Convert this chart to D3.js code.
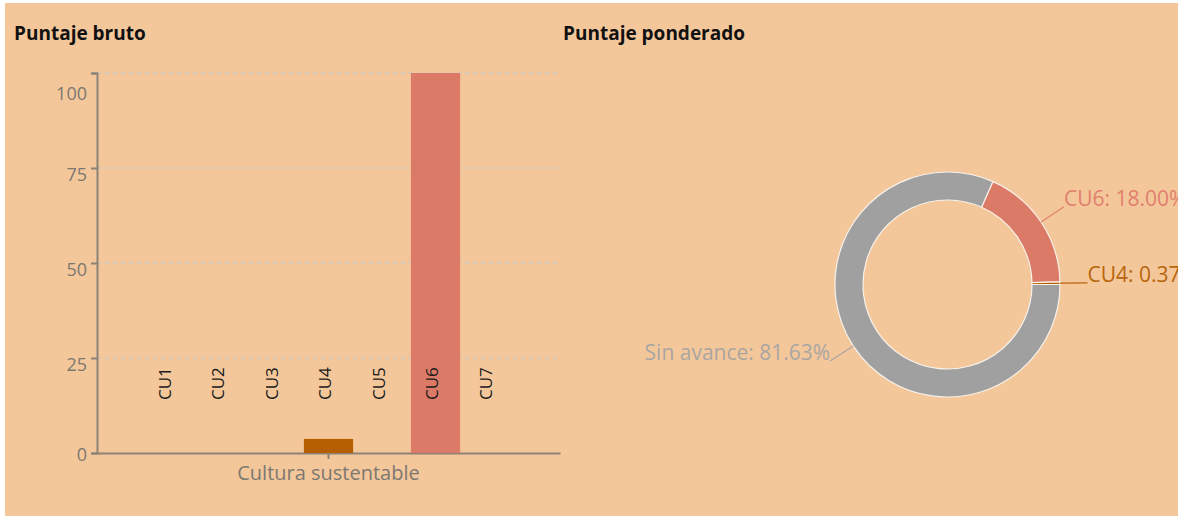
<!DOCTYPE html>
<html>
<head>
<meta charset="utf-8">
<script src="https://cdn.jsdelivr.net/npm/d3@7"></script>
<style>
  html, body { margin: 0; padding: 0; background: #fff; }
  body { font-family: "Open Sans", "Noto Sans", sans-serif; }
  #wrap {
    position: absolute; left: 5px; top: 3px; width: 1173px; height: 513px;
    background: #f4c79b; overflow: hidden;
  }
  svg { position: absolute; left: 0; top: 0; }
  .title { font-weight: 700; font-size: 19px; fill: #111; }
  .axis path, .axis line { stroke: #8b8278; stroke-width: 2px; fill: none; }
  .axis text { fill: #7d7870; font-family: "Open Sans", sans-serif; }
  .grid line { stroke: #cdc8c1; stroke-dasharray: 4 4; stroke-width: 1.5px; }
  .cu-label { font-size: 17px; fill: #1a1a1a; }
  .pie-label { font-size: 21px; }
</style>
</head>
<body>
<div id="wrap"></div>
<script>
// Data
var groups = ["Cultura sustentable"];
var categories = ["CU1", "CU2", "CU3", "CU4", "CU5", "CU6", "CU7"];
var rawScores = [0, 0, 0, 3.7, 0, 100, 0];
var yTicks = [0, 25, 50, 75, 100];

var pieNames = ["Sin avance", "CU6", "CU4"];
var pieValues = [81.63, 18.0, 0.37];

var COLORS = {
  CU4: "#b55f00",
  CU6: "#dc7a68",
  "Sin avance": "#a0a0a0",
};
var LABEL_COLORS = {
  CU4: "#b8650c",
  CU6: "#e0806e",
  "Sin avance": "#a9a6a2",
};

var container = d3.select("#wrap");
var svg = container.append("svg").attr("width", 1173).attr("height", 513);

// Coordinates inside #wrap (offset 5,3 from page)
var margins = { top: 70, left: 92, bottom: 63 };
var chartWidth = 463;
var chartHeight = 380;

svg.append("text").attr("class", "title").attr("x", 9).attr("y", 37).text("Puntaje bruto");
svg.append("text").attr("class", "title").attr("x", 558).attr("y", 37).text("Puntaje ponderado");

// ---- Bar chart ----
var chartElement = svg.append("g").attr("transform", `translate(${margins.left},${margins.top})`);

var x0 = d3.scaleBand().domain(groups).range([0, chartWidth]).paddingInner(0.1).paddingOuter(0.1);
var x1 = d3.scaleBand().domain(categories).range([0, x0.bandwidth()]).padding(0.08);
var yScale = d3.scaleLinear().domain([0, 100]).range([chartHeight, 0]);

// Grid
chartElement
  .append("g")
  .attr("class", "grid")
  .selectAll("line")
  .data(yTicks.filter((d) => d > 0))
  .enter()
  .append("line")
  .attr("x1", 0)
  .attr("x2", chartWidth)
  .attr("y1", (d) => yScale(d))
  .attr("y2", (d) => yScale(d));

// Axes
var yAxis = d3.axisLeft(yScale).tickValues(yTicks).tickSize(6).tickPadding(4);
var yAxisG = chartElement.append("g").attr("class", "y axis").call(yAxis);
yAxisG
  .selectAll("text")
  .style("font-size", "18px")
  .attr("dy", (d) => (d == 100 ? "1.45em" : d == 0 ? "0.4em" : "0.7em"));

var xAxis = d3.axisBottom(x0).tickSize(6).tickSizeOuter(0).tickPadding(5);
var xAxisG = chartElement.append("g").attr("class", "x axis").attr("transform", `translate(0,${chartHeight})`).call(xAxis);
xAxisG.selectAll("text").style("font-size", "20px").attr("dy", "0.8em");

// Bars
var barGroups = chartElement
  .selectAll(".bars")
  .data(groups)
  .enter()
  .append("g")
  .attr("class", "bars")
  .attr("transform", (d) => `translate(${x0(d)},0)`);

barGroups
  .selectAll("rect")
  .data(categories.map((c, i) => ({ key: c, value: rawScores[i] })))
  .enter()
  .append("rect")
  .attr("x", (d) => x1(d.key))
  .attr("width", x1.bandwidth())
  .attr("y", (d) => yScale(d.value))
  .attr("height", (d) => chartHeight - yScale(d.value))
  .style("fill", (d) => COLORS[d.key] || "#999");

// Rotated category labels
barGroups
  .selectAll(".cu-label")
  .data(categories)
  .enter()
  .append("text")
  .attr("class", "cu-label")
  .attr("transform", (d) => `translate(${x1(d) + x1.bandwidth() / 2},${chartHeight - 53}) rotate(-90)`)
  .attr("dy", "0.15em")
  .text((d) => d);

// ---- Donut ----
var cx = 942.5;
var cy = 281.5;
var outerR = 112.5;
var innerR = 84.5;
var labelR = 140;

var pie = d3
  .pie()
  .sort(null)
  .startAngle(Math.PI / 2)
  .endAngle(Math.PI / 2 + 2 * Math.PI);

var arc = d3.arc().innerRadius(innerR).outerRadius(outerR);
var pieData = pie(pieValues).map((d, i) => Object.assign(d, { name: pieNames[i] }));

var donut = svg.append("g").attr("transform", `translate(${cx},${cy})`);

donut
  .selectAll("path")
  .data(pieData)
  .enter()
  .append("path")
  .attr("d", arc)
  .style("fill", (d) => COLORS[d.name])
  .style("stroke", "#f7f1ea")
  .style("stroke-width", 1.2);

function polar(a, r) {
  return [r * Math.sin(a), -r * Math.cos(a)];
}

var labels = donut.selectAll(".pie-label-g").data(pieData).enter().append("g");

labels
  .append("polyline")
  .attr("points", function (d) {
    var mid = (d.startAngle + d.endAngle) / 2;
    return [polar(mid, outerR), polar(mid, labelR)].join(" ");
  })
  .style("fill", "none")
  .style("stroke", (d) => LABEL_COLORS[d.name])
  .style("stroke-width", 1.2);

labels
  .append("text")
  .attr("class", "pie-label")
  .attr("x", (d) => polar((d.startAngle + d.endAngle) / 2, labelR)[0])
  .attr("y", (d) => polar((d.startAngle + d.endAngle) / 2, labelR)[1])
  .attr("text-anchor", (d) => (Math.sin((d.startAngle + d.endAngle) / 2) > 0 ? "start" : "end"))
  .attr("dy", "-0.05em")
  .style("fill", (d) => LABEL_COLORS[d.name])
  .text((d) => `${d.name}: ${d3.format(".2f")(d.value)}%`);
</script>
</body>
</html>
